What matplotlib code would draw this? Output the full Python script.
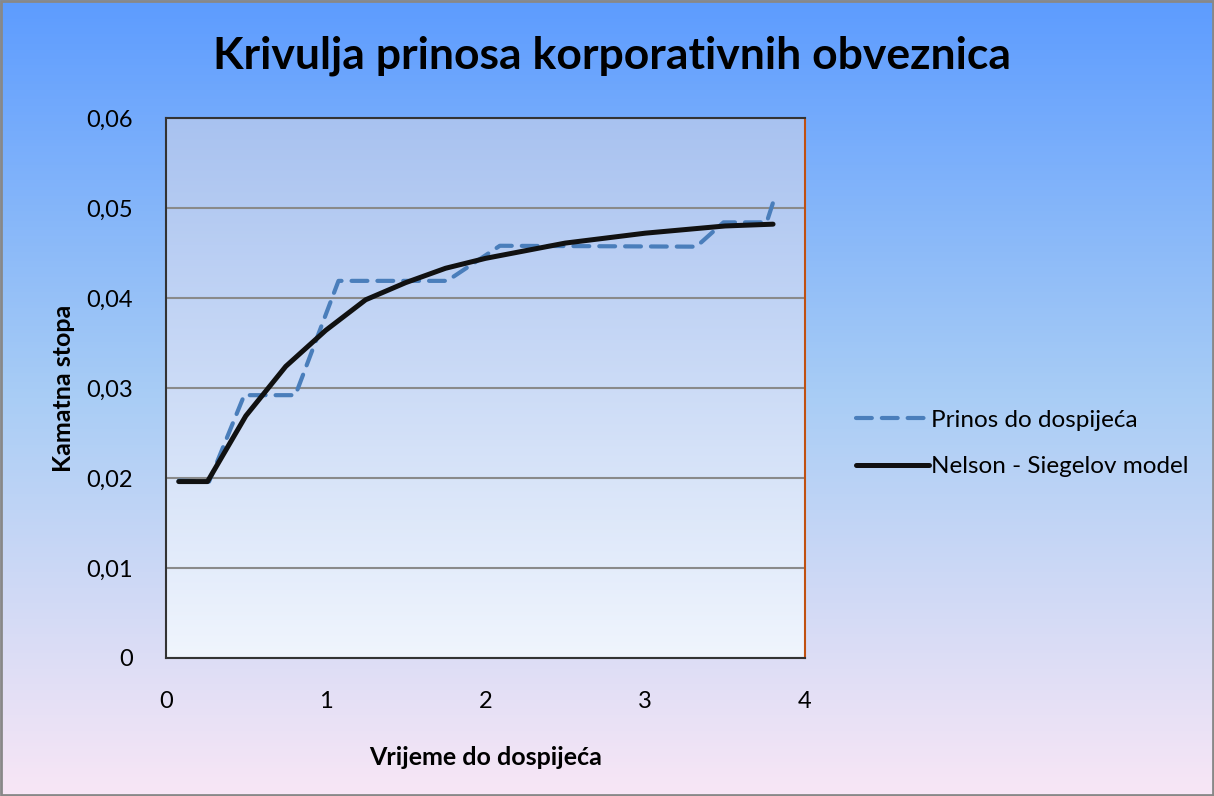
import numpy as np
import matplotlib.pyplot as plt
from matplotlib.colors import LinearSegmentedColormap

plt.rcParams['font.family'] = ['Lato', 'DejaVu Sans']

# prinos do dospijeca (podaci o obveznicama)
ytm_x = [0.08, 0.27, 0.49, 0.81, 1.08, 1.76, 2.09, 3.32, 3.49, 3.76, 3.80]
ytm_y = [0.0197, 0.0196, 0.0292, 0.0292, 0.0419, 0.0419, 0.0458, 0.0457, 0.0484, 0.0484, 0.0506]

# Nelson - Siegelov model
ns_x = [0.08, 0.26, 0.5, 0.75, 1.0, 1.25, 1.5, 1.75, 2.0, 2.5, 3.0, 3.5, 3.8]
ns_y = [0.0196, 0.0196, 0.0269, 0.0324, 0.0364, 0.0398, 0.0417, 0.0433, 0.0444,
        0.0461, 0.0472, 0.0480, 0.0482]

x_ticks = [0, 1, 2, 3, 4]
y_ticks = [0, 0.01, 0.02, 0.03, 0.04, 0.05, 0.06]
y_labels = ['0', '0,01', '0,02', '0,03', '0,04', '0,05', '0,06']

fig = plt.figure(figsize=(12.14, 7.96), dpi=100)

# pozadina slike - gradijent
bg = fig.add_axes([0, 0, 1, 1], zorder=-10)
bg_cmap = LinearSegmentedColormap.from_list('bg', ['#5d9cff', '#a9cdf5', '#f8e6f6'])
bg.imshow(np.linspace(0, 1, 256).reshape(-1, 1), aspect='auto', cmap=bg_cmap,
          extent=[0, 1, 0, 1])
bg.set_xlim(0, 1)
bg.set_ylim(0, 1)
bg.axis('off')
bg.add_patch(plt.Rectangle((0.001, 0.001), 0.998, 0.998, fill=False,
                           edgecolor='#888888', lw=2))

ax = fig.add_axes([0.1367, 0.1734, 0.5264, 0.6784])
pa_cmap = LinearSegmentedColormap.from_list('pa', ['#a8c2f0', '#f0f5fd'])
ax.imshow(np.linspace(0, 1, 256).reshape(-1, 1), aspect='auto', cmap=pa_cmap,
          extent=[0, 4, 0, 0.06], zorder=0)

ax.grid(axis='y', color='#8a8a8a', lw=1.5, zorder=1)
ax.set_axisbelow(True)

ax.plot(ytm_x, ytm_y, color='#4a7ebb', lw=3.0, ls=(0, (3.8, 2.4)),
        dash_capstyle='round', label='Prinos do dospijeća', zorder=3)
ax.plot(ns_x, ns_y, color='#111111', lw=3.6, solid_capstyle='round',
        label='Nelson - Siegelov model', zorder=4)

ax.set_xlim(0, 4)
ax.set_ylim(0, 0.06)
ax.set_xticks(x_ticks)
ax.set_yticks(y_ticks)
ax.set_yticklabels(y_labels)
ax.tick_params(length=0, labelsize=17)
ax.tick_params(axis='x', pad=24)
ax.tick_params(axis='y', pad=24)
for s in ax.spines.values():
    s.set_color('#333333')
    s.set_linewidth(1.5)
ax.spines['right'].set_color('#c05010')

ax.set_xlabel('Vrijeme do dospijeća', fontsize=18, fontweight='bold', labelpad=24)
ax.set_ylabel('Kamatna stopa', fontsize=18, fontweight='bold', labelpad=8)

fig.text(0.504, 0.93, 'Krivulja prinosa korporativnih obveznica', ha='center',
         va='center', fontsize=32, fontweight='bold')

fig.legend(loc='center left', bbox_to_anchor=(0.687, 0.443), frameon=False,
           fontsize=17.5, handlelength=3.0, handletextpad=0.1, labelspacing=1.05)

fig.savefig('out.png', dpi=100)
